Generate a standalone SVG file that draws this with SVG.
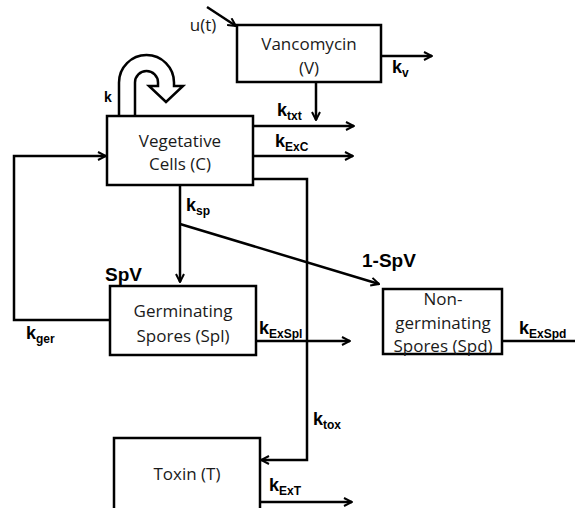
<svg xmlns="http://www.w3.org/2000/svg" width="575" height="508" viewBox="0 0 575 508">
<defs>
<marker id="ah" viewBox="0 0 10 10" refX="9" refY="5" markerWidth="10" markerHeight="10" markerUnits="userSpaceOnUse" orient="auto">
<path d="M1,1 L9,5 L1,9" fill="none" stroke="#000" stroke-width="2"/>
</marker>
<style>
.box{fill:#fff;stroke:#000;stroke-width:2.5}
.ln{fill:none;stroke:#000;stroke-width:2.5}
.arr{fill:none;stroke:#000;stroke-width:2.5;marker-end:url(#ah)}
.t{font-family:"Open Sans","DejaVu Sans",sans-serif;font-size:17px;fill:#1a1a1a;text-anchor:middle}
.k{font-family:"Liberation Sans",Arial,sans-serif;font-weight:bold;font-size:18px;fill:#000}
.s{font-size:12px}
.b{font-family:"Liberation Sans",Arial,sans-serif;font-weight:bold;font-size:19px;fill:#000}
</style>
</defs>
<g id="connectors">
<path class="arr" d="M207,7 L236,26"/>
<path class="arr" d="M381,56 L432,56"/>
<path class="arr" d="M316,82 L316,120"/>
<path class="arr" d="M253,126 L354,126"/>
<path class="arr" d="M253,156 L353,156"/>
<path class="arr" d="M253,179 L307,179 L307,460 L261,460"/>
<path class="arr" d="M110,320 L14,320 L14,156 L106,156"/>
<path class="arr" d="M180,185 L180,282"/>
<path class="arr" d="M180,224 L379,284"/>
<path class="arr" d="M256,341 L350,341"/>
<path class="ln" d="M502,341 L575,341"/>
<path class="arr" d="M260,502 L352,502"/>
<path d="M119,116 L119,82.5 A27.5,27.5 0 0 1 174,82.5 L174,86 L183,86 L166,102 L149,86 L158,86 L158,82.5 A11.5,11.5 0 0 0 135,82.5 L135,116" fill="#fff" stroke="#000" stroke-width="2.5" stroke-linejoin="miter"/>
</g>
<g id="u">
<text class="t" x="203" y="31">u(t)</text>
</g>
<g id="vancomycin">
<rect class="box" x="237" y="25" width="144" height="57"/>
<text class="t" x="309" y="50">Vancomycin</text>
<text class="t" x="309" y="74">(V)</text>
</g>
<g id="vegetative">
<rect class="box" x="107" y="116" width="146" height="69"/>
<text class="t" x="180" y="147">Vegetative</text>
<text class="t" x="180" y="170">Cells (C)</text>
</g>
<g id="germinating">
<rect class="box" x="110" y="286" width="146" height="69"/>
<text class="t" x="183" y="317">Germinating</text>
<text class="t" x="183" y="342">Spores (Spl)</text>
</g>
<g id="nongerminating">
<rect class="box" x="383" y="289" width="119" height="65"/>
<text class="t" x="443" y="305">Non-</text>
<text class="t" x="443" y="329">germinating</text>
<text class="t" x="443" y="352">Spores (Spd)</text>
</g>
<g id="toxin">
<rect class="box" x="114" y="438" width="146" height="75"/>
<text class="t" x="187" y="480">Toxin (T)</text>
</g>
<g id="labels">
<text class="k" x="104" y="102" style="font-size:14px">k</text>
<text class="k" x="392" y="73">k<tspan class="s" dy="4">v</tspan></text>
<text class="k" x="277" y="116">k<tspan class="s" dy="4">txt</tspan></text>
<text class="k" x="275" y="147">k<tspan class="s" dy="4">ExC</tspan></text>
<text class="k" x="186" y="211">k<tspan class="s" dy="4">sp</tspan></text>
<text class="b" x="105" y="281">SpV</text>
<text class="b" x="362" y="267">1-SpV</text>
<text class="k" x="26" y="339">k<tspan class="s" dy="4">ger</tspan></text>
<text class="k" x="259" y="334">k<tspan class="s" dy="4">ExSpl</tspan></text>
<text class="k" x="519" y="334">k<tspan class="s" dy="4">ExSpd</tspan></text>
<text class="k" x="313" y="425">k<tspan class="s" dy="4">tox</tspan></text>
<text class="k" x="269" y="491">k<tspan class="s" dy="4">ExT</tspan></text>
</g>
</svg>
